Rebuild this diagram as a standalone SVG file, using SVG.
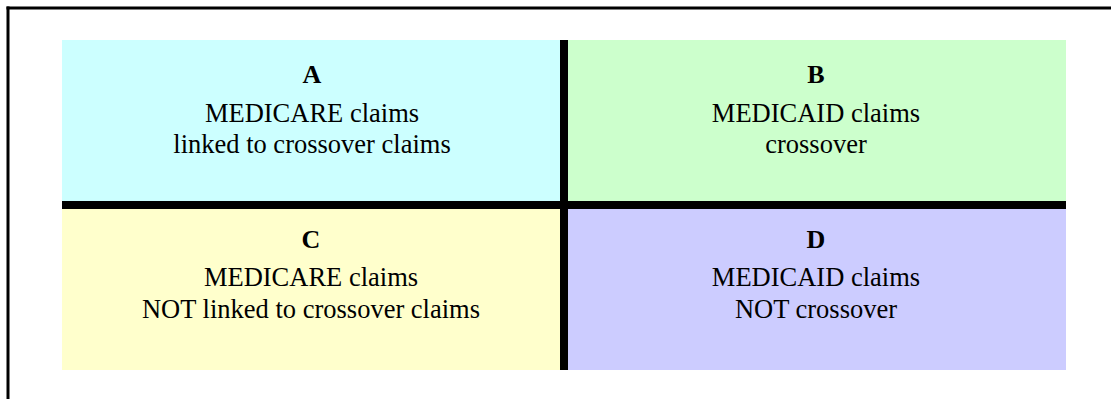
<svg xmlns="http://www.w3.org/2000/svg" width="1111" height="399" viewBox="0 0 1111 399">
<style>
.t{font-family:"Liberation Serif","Times New Roman",serif;font-size:26px;font-weight:bold;text-anchor:middle;fill:#000}
.b{font-family:"Liberation Serif","Times New Roman",serif;font-size:26.5px;text-anchor:middle;fill:#000}
</style>
<rect width="1111" height="399" fill="#fff"/>
<g id="frame" fill="#000">
<rect x="6.5" y="6.5" width="1104.5" height="3"/>
<rect x="6.5" y="6.5" width="3" height="392.5"/>
</g>
<g id="A">
<rect x="62" y="40" width="498" height="161" fill="#CCFFFF"/>
<text class="t" x="312" y="83">A</text>
<text class="b" x="312" y="122">MEDICARE claims</text>
<text class="b" x="312" y="153">linked to crossover claims</text>
</g>
<g id="B">
<rect x="568" y="40" width="498" height="161" fill="#CCFFCC"/>
<text class="t" x="816" y="83">B</text>
<text class="b" x="816" y="122">MEDICAID claims</text>
<text class="b" x="816" y="153">crossover</text>
</g>
<g id="C">
<rect x="62" y="209" width="498" height="161" fill="#FFFFCC"/>
<text class="t" x="311" y="248">C</text>
<text class="b" x="311" y="286">MEDICARE claims</text>
<text class="b" x="311" y="318">NOT linked to crossover claims</text>
</g>
<g id="D">
<rect x="568" y="209" width="498" height="161" fill="#CCCCFF"/>
<text class="t" x="816" y="248">D</text>
<text class="b" x="816" y="286">MEDICAID claims</text>
<text class="b" x="816" y="318">NOT crossover</text>
</g>
<g id="connectors" fill="#000">
<rect x="560" y="40" width="8" height="330"/>
<rect x="62" y="201" width="1004" height="8"/>
</g>
</svg>
